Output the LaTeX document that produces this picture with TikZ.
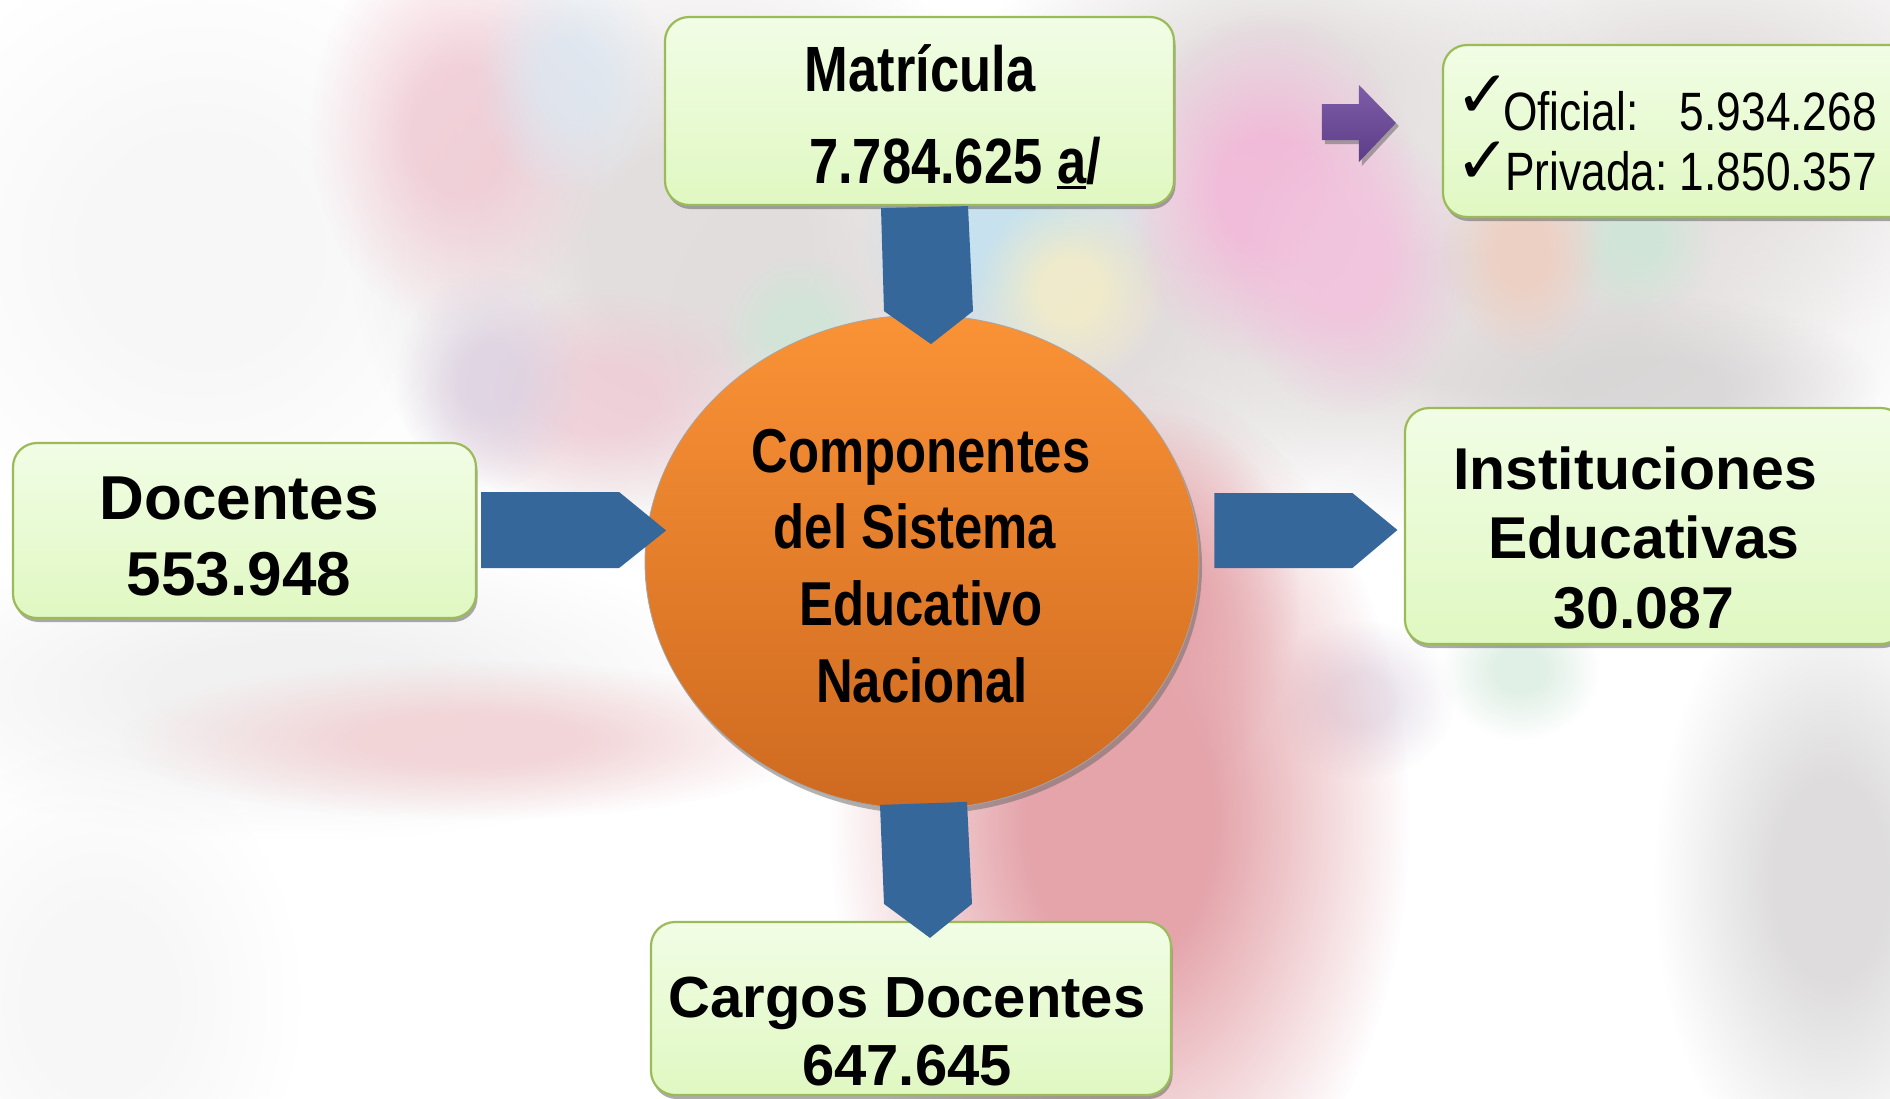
\documentclass[tikz,border=0pt]{standalone}
\usepackage{fontspec}
\setmainfont{Liberation Sans}
\newfontfamily\narrowfont[FakeStretch=0.82]{Liberation Sans}
\newfontfamily\symfont{DejaVu Sans}
\usetikzlibrary{calc,shapes.geometric,shadows,fadings}
\pgfdeclareradialshading{softshade}{\pgfpointorigin}{color(0bp)=(white); color(8bp)=(white); color(25bp)=(black); color(50bp)=(black)}
\pgfdeclarefading{softblob}{\pgfuseshading{softshade}}
\definecolor{boxborder}{HTML}{9BBB59}
\definecolor{boxtop}{HTML}{F1FDE5}
\definecolor{boxbot}{HTML}{E0F8C2}
\definecolor{arrowblue}{HTML}{35679A}
\definecolor{orangetop}{HTML}{FA9236}
\definecolor{orangebot}{HTML}{CE6A20}
\definecolor{purpletop}{HTML}{7E5DA8}
\definecolor{purplebot}{HTML}{5D3D88}
\definecolor{bgGrey}{RGB}{226,221,221}
\definecolor{bgGreyB}{RGB}{214,212,212}
\definecolor{bgPink}{RGB}{240,200,210}
\definecolor{bgMag}{RGB}{242,184,216}
\definecolor{bgMagB}{RGB}{242,196,222}
\definecolor{bgBlue}{RGB}{196,226,240}
\definecolor{bgBlueB}{RGB}{220,230,240}
\definecolor{bgYel}{RGB}{243,236,200}
\definecolor{bgGreen}{RGB}{205,230,214}
\definecolor{bgPeach}{RGB}{240,205,190}
\definecolor{bgLav}{RGB}{220,210,226}
\definecolor{bgRed}{RGB}{228,164,170}
\definecolor{bgStreak}{RGB}{242,210,213}
\newcommand\ulmark[1]{\setbox0\hbox{#1}\rlap{\rule[-6pt]{\wd0}{3pt}}#1}
\begin{document}
\begin{tikzpicture}[x=1pt,y=-1pt,
  greenbox/.style={rectangle, rounded corners=24pt, draw=boxborder, line width=2.2pt,
    top color=boxtop, bottom color=boxbot, inner sep=0pt,
    drop shadow={shadow xshift=1.5pt, shadow yshift=-4pt, fill=black!60, opacity=0.55}},
  bluearrow/.style={fill=arrowblue},
  blob/.style={fill=#1, path fading=softblob},
  nb/.style={inner sep=0pt, font=\narrowfont\bfseries\fontsize{#1}{#1}\selectfont},
  nr/.style={inner sep=0pt, font=\narrowfont\fontsize{#1}{#1}\selectfont},
  wb/.style={inner sep=0pt, font=\bfseries\fontsize{#1}{#1}\selectfont},
  chk/.style={inner sep=0pt, font=\symfont\fontsize{#1}{#1}\selectfont}]
\useasboundingbox (0,0) rectangle (1890,1098);
\fill[white] (0,0) rectangle (1890,1098);
% blurred background
\begin{scope}
\clip (0,0) rectangle (1890,1098);
\fill[blob=black!4, opacity=0.8] (200,250) ellipse [x radius=310, y radius=300];
\fill[blob=black!6, opacity=0.9] (300,690) ellipse [x radius=445, y radius=150];
\fill[blob=black!4, opacity=0.8] (100,1000) ellipse [x radius=200, y radius=255];
\fill[blob=bgGrey, opacity=0.95] (700,250) ellipse [x radius=350, y radius=325];
\fill[blob=bgGrey, opacity=0.95] (1050,320) ellipse [x radius=380, y radius=230];
\fill[blob=bgGrey, opacity=0.95] (1500,320) ellipse [x radius=445, y radius=215];
\fill[blob=bgGrey, opacity=0.9] (1700,120) ellipse [x radius=380, y radius=230];
\fill[blob=bgGrey, opacity=0.9] (1280,90) ellipse [x radius=310, y radius=190];
\fill[blob=bgGreyB, opacity=0.8] (1650,390) ellipse [x radius=230, y radius=95];
\fill[blob=bgPink, opacity=0.8] (460,130) ellipse [x radius=150, y radius=200];
\fill[blob=bgPink, opacity=0.7] (600,400) ellipse [x radius=175, y radius=110];
\fill[blob=bgBlueB, opacity=0.8] (570,80) ellipse [x radius=95, y radius=120];
\fill[blob=bgLav, opacity=0.8] (490,380) ellipse [x radius=95, y radius=110];
\fill[blob=bgMag, opacity=0.9] (1268,190) ellipse [x radius=150, y radius=175];
\fill[blob=bgMagB, opacity=0.9] (1350,265) ellipse [x radius=120, y radius=150];
\fill[blob=bgBlue, opacity=0.9] (1010,240) ellipse [x radius=150, y radius=135];
\fill[blob=bgYel, opacity=0.9] (1070,290) ellipse [x radius=95, y radius=95];
\fill[blob=bgGreen, opacity=0.8] (800,330) ellipse [x radius=80, y radius=80];
\fill[blob=bgGreen, opacity=0.8] (1636,240) ellipse [x radius=80, y radius=80];
\fill[blob=bgPeach, opacity=0.8] (1523,250) ellipse [x radius=80, y radius=110];
\fill[blob=bgGreen, opacity=0.6] (1520,670) ellipse [x radius=80, y radius=70];
\fill[blob=bgLav, opacity=0.6] (1360,700) ellipse [x radius=95, y radius=80];
\fill[blob=bgStreak, opacity=0.9] (470,740) ellipse [x radius=350, y radius=80];
\fill[blob=bgRed, opacity=1] (1120,820) ellipse [x radius=290, y radius=445];
\fill[blob=bgRed, opacity=0.9] (1150,600) ellipse [x radius=150, y radius=190];
\fill[blob=bgGreyB, opacity=0.8] (1830,880) ellipse [x radius=175, y radius=310];
\end{scope}
% boxes
\node[greenbox, minimum width=509pt, minimum height=188pt] (mat) at (919.5,111) {};
\node[greenbox, minimum width=470pt, minimum height=172pt] (chkbox) at (1678,131) {};
\node[greenbox, minimum width=463pt, minimum height=175pt] (doc) at (244.5,530.5) {};
\node[greenbox, minimum width=500pt, minimum height=236pt] (inst) at (1655,526) {};
\node[greenbox, minimum width=520pt, minimum height=173pt] (cargo) at (911,1008.5) {};
% central ellipse
\node[ellipse, minimum width=554pt, minimum height=494pt, inner sep=0pt,
  top color=orangetop, bottom color=orangebot, draw=black!35, line width=0.8pt,
  drop shadow={shadow xshift=3pt, shadow yshift=-5pt, fill=black!60, opacity=0.5}] (circ) at (922,562) {};
% texts
\node[nb=64, anchor=base] (matT) at (920,91) {Matrícula};
\node[nb=64, anchor=base] (matN) at (955,183) {7.784.625 \ulmark{a}/};
\node[nb=62, anchor=base] (c1) at (921,472) {Componentes};
\node[nb=62, anchor=base] (c2) at (915,548) {del Sistema};
\node[nb=62, anchor=base] (c3) at (921,625) {Educativo};
\node[nb=62, anchor=base] (c4) at (922,702) {Nacional};
\node[wb=62, anchor=base] (docT) at (239,519) {Docentes};
\node[wb=62, anchor=base] (docN) at (239,595) {553.948};
\node[wb=59, anchor=base] (instT) at (1635,489) {Instituciones};
\node[wb=59, anchor=base] (instE) at (1644,558) {Educativas};
\node[wb=59, anchor=base] (instN) at (1644,628) {30.087};
\node[wb=58, anchor=base] (cargoT) at (907,1017) {Cargos Docentes};
\node[wb=58, anchor=base] (cargoN) at (907,1085) {647.645};
\node[chk=66, anchor=base west] (ck1) at (1455,117) {✓};
\node[chk=66, anchor=base west] (ck2) at (1455,183) {✓};
\node[nr=54, anchor=base west] (ofT) at (1503,130) {Oficial:};
\node[nr=54, anchor=base east] (ofN) at (1877,130) {5.934.268};
\node[nr=54, anchor=base west] (prT) at (1505,190) {Privada:};
\node[nr=54, anchor=base east] (prN) at (1877,190) {1.850.357};
% purple arrow
\fill[black!55, opacity=0.6] ($(chkbox.west)+(-117,-24)$) -- ($(chkbox.west)+(-80,-24)$) -- ($(chkbox.west)+(-80,-43)$)
  -- ($(chkbox.west)+(-43,-5)$) -- ($(chkbox.west)+(-80,35)$) -- ($(chkbox.west)+(-80,13)$) -- ($(chkbox.west)+(-117,13)$) -- cycle;
\shade[top color=purpletop, bottom color=purplebot] ($(chkbox.west)+(-120,-27)$) -- ($(chkbox.west)+(-83,-27)$) -- ($(chkbox.west)+(-83,-46)$)
  -- ($(chkbox.west)+(-46,-8)$) -- ($(chkbox.west)+(-83,31)$) -- ($(chkbox.west)+(-83,9)$) -- ($(chkbox.west)+(-120,9)$) -- cycle;
% blue block arrows
\fill[bluearrow] ($(mat.south)+(-38.5,2)$) -- ($(mat.south)+(48.5,0)$) -- ($(mat.south)+(53.5,105)$)
  -- ($(mat.south)+(11.5,138)$) -- ($(mat.south)+(-35.5,105)$) -- cycle;
\fill[bluearrow] ($(doc.east)+(4,-38.5)$) -- ($(doc.east)+(142,-38.5)$) -- ($(doc.east)+(189,0)$)
  -- ($(doc.east)+(142,37.5)$) -- ($(doc.east)+(4,37.5)$) -- cycle;
\fill[bluearrow] ($(circ.east)+(15,-69)$) -- ($(circ.east)+(153,-69)$) -- ($(circ.east)+(198,-32)$)
  -- ($(circ.east)+(153,6)$) -- ($(circ.east)+(15,6)$) -- cycle;
\fill[bluearrow] ($(cargo.north)+(-31,-116)$) -- ($(cargo.north)+(56,-119)$) -- ($(cargo.north)+(61,-17)$)
  -- ($(cargo.north)+(19,17)$) -- ($(cargo.north)+(-27,-17)$) -- cycle;
\end{tikzpicture}
\end{document}
